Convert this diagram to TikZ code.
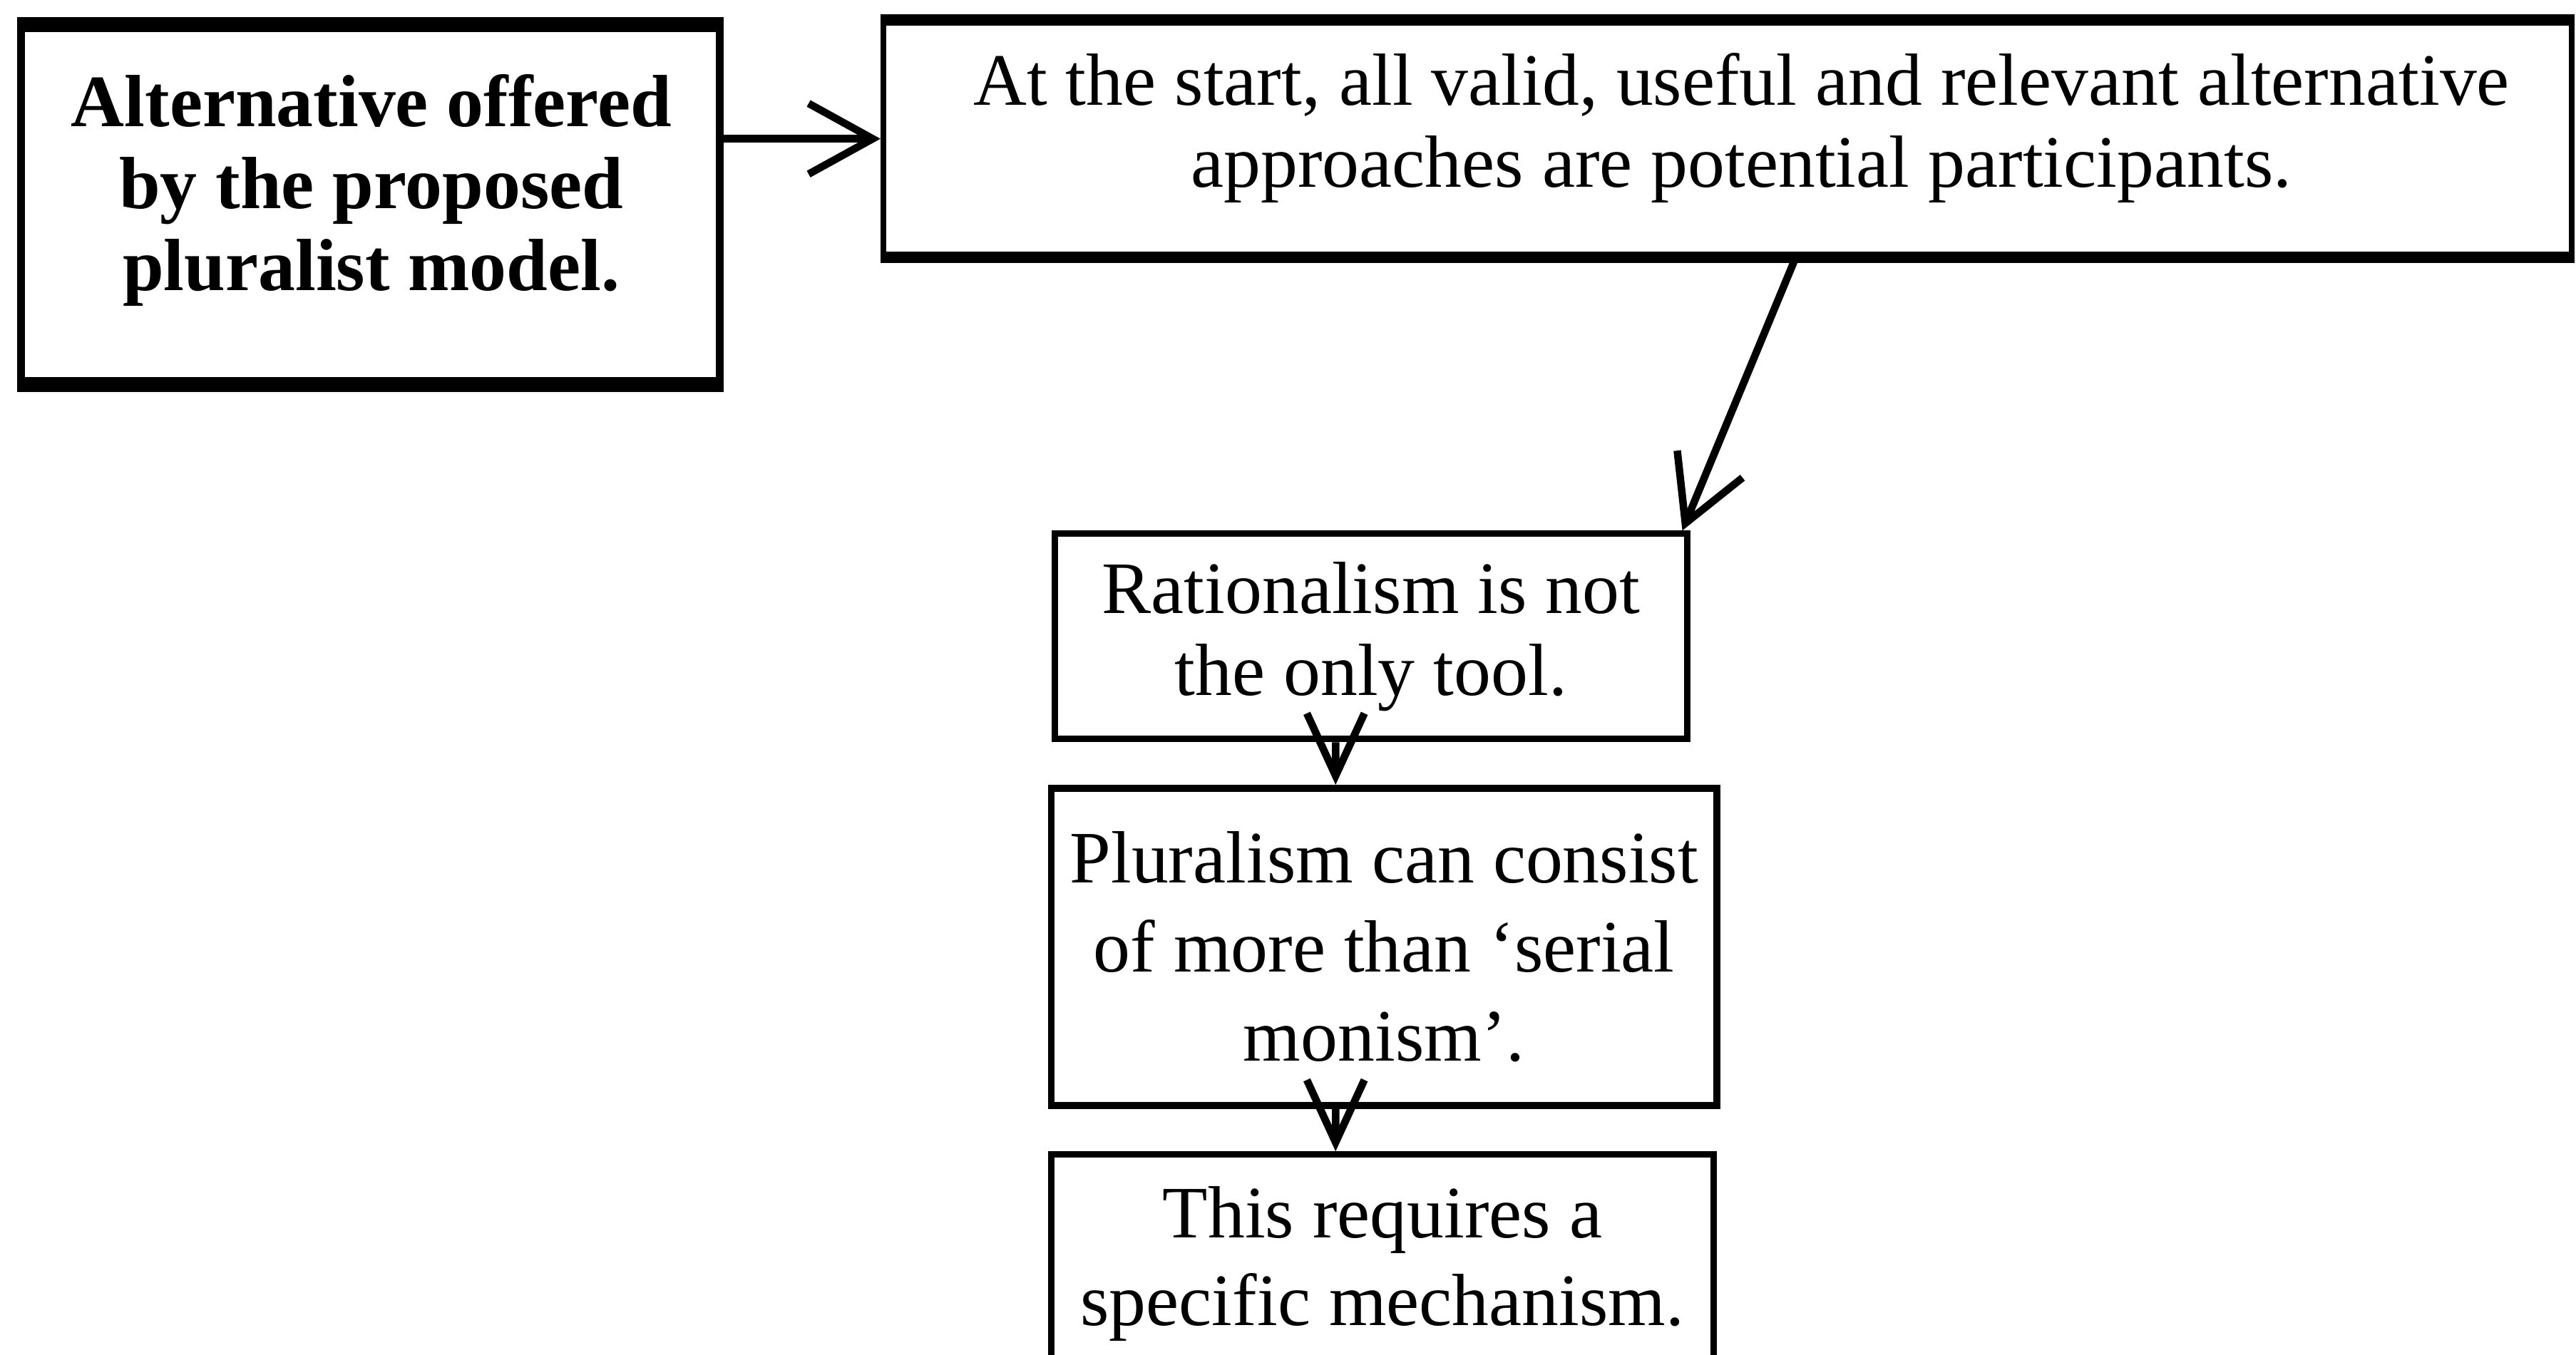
\documentclass[tikz,border=0pt]{standalone}
\usepackage{fontspec}
\setmainfont{Liberation Serif}
\usetikzlibrary{arrows.meta}
\begin{document}
\begin{tikzpicture}[x=0.01cm,y=-0.01cm,
  box/.style={draw, line width=1pt, inner sep=0pt},
  heavy/.style={line width=2.4pt},
  txt/.style={align=center, font=\fontsize{12.8}{14.2}\selectfont, inner sep=0pt},
  flow/.style={line width=1.3pt, -{Straight Barb[length=3.9mm,width=4.3mm]}},
  drop/.style={line width=1.3pt, -{Straight Barb[length=3.8mm,width=3.5mm]}}
]
\useasboundingbox (0,0) rectangle (1568,825);

% boxes
\node[box, line width=1.4pt, minimum width=4.25cm, minimum height=2.15cm] (A) at (225.5,124.5) {};
\node[txt, font=\fontsize{12.8}{14.2}\selectfont\bfseries] (At) at (226,116)
  {Alternative offered\\by the proposed\\pluralist model.};
\draw[heavy] (A.north west) -- (A.north east);
\draw[heavy] (A.south west) -- (A.south east);

\node[box, minimum width=10.27cm, minimum height=1.41cm] (B) at (1051.5,84.5) {};
\node[txt] (Bt) at (1060,78)
  {At the start, all valid, useful and relevant alternative\\approaches are potential participants.};
\draw[heavy, line width=2pt] (B.north west) -- (B.north east);
\draw[heavy, line width=2pt] (B.south west) -- (B.south east);

\node[box, txt, draw, line width=1.1pt, minimum width=3.85cm, minimum height=1.25cm] (C) at (834.5,387.5)
  {Rationalism is not\\the only tool.};

\node[box, txt, draw, line width=1.2pt, minimum width=4.05cm, minimum height=1.93cm] (D) at (842.5,576.5)
  {Pluralism can consist\\[1.2pt]of more than `serial\\[1.2pt]monism'.};

\node[box, txt, draw, line width=1.1pt, minimum width=4.03cm, minimum height=1.33cm] (E) at (841.5,769.5)
  {This requires a\\[1pt]specific mechanism.};

% connectors
\draw[flow] (A.east |- B.west) -- (B.west);
\draw[flow] ([xshift=4.15mm]B.south) -- ([xshift=-0.5mm]C.north east);
\draw[drop] ([xshift=-2.15mm]C.south) -- ([xshift=-2.95mm]D.north);
\draw[drop] ([xshift=-2.95mm]D.south) -- ([xshift=-2.85mm]E.north);
\end{tikzpicture}
\end{document}
